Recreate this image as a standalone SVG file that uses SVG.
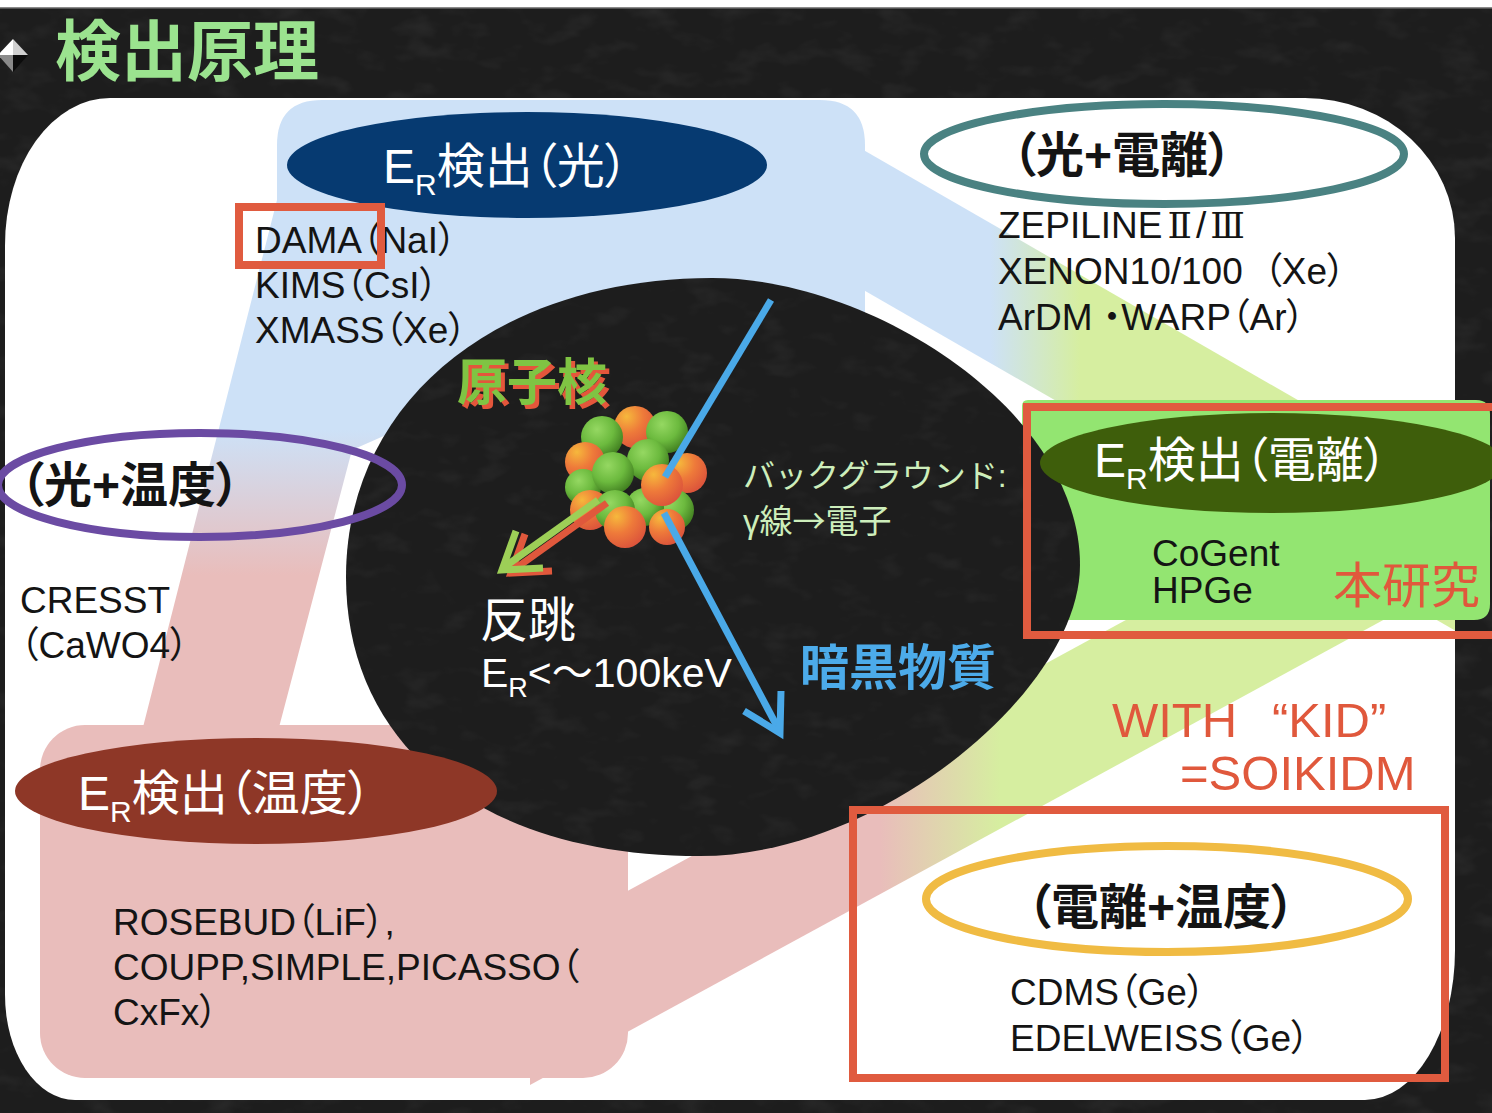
<svg xmlns="http://www.w3.org/2000/svg" width="1492" height="1113" viewBox="0 0 1492 1113">
  <defs>
    <style>
      text { font-family: "Liberation Sans", "Noto Sans CJK JP", sans-serif; font-feature-settings: "palt"; }
      .jp { font-family: "Noto Sans CJK JP", sans-serif; }
      .wide { font-feature-settings: normal; }
      .numeral { font-family: "DejaVu Serif", "Noto Sans CJK JP", serif; font-size: 36px; }
      .list { font-size: 37px; fill: #141414; }
      .head { font-size: 48px; fill: #ffffff; }
      .pair { font-size: 48px; font-weight: bold; fill: #141414; }
      .ring { stroke-width: 8; }
      .frame { fill: none; stroke: #e05b3f; stroke-width: 8; }
      .ray { fill: none; stroke: #4aa9e8; stroke-width: 7; }
      .recoil { fill: none; stroke-width: 7; stroke-linejoin: miter; }
      .ballG { fill: url(#gBallG); }
      .ballO { fill: url(#gBallO); }
    </style>
    <linearGradient id="gBlueRose" x1="0" y1="430" x2="0" y2="575" gradientUnits="userSpaceOnUse">
      <stop offset="0" stop-color="#cde1f7"/>
      <stop offset="1" stop-color="#e9bdbb"/>
    </linearGradient>
    <linearGradient id="gBlueLime" x1="990" y1="0" x2="1080" y2="0" gradientUnits="userSpaceOnUse">
      <stop offset="0" stop-color="#cde1f7"/>
      <stop offset="1" stop-color="#d6eea0"/>
    </linearGradient>
    <linearGradient id="gRoseLime" x1="880" y1="0" x2="1000" y2="0" gradientUnits="userSpaceOnUse">
      <stop offset="0" stop-color="#e9bdbb"/>
      <stop offset="1" stop-color="#d6eea0"/>
    </linearGradient>
    <radialGradient id="gBallG" cx="0.38" cy="0.32" r="0.72">
      <stop offset="0" stop-color="#95d862"/>
      <stop offset="0.55" stop-color="#6cba3e"/>
      <stop offset="1" stop-color="#3f7c1f"/>
    </radialGradient>
    <radialGradient id="gBallO" cx="0.3" cy="0.25" r="0.8">
      <stop offset="0" stop-color="#f6b83c"/>
      <stop offset="0.5" stop-color="#ee7a3a"/>
      <stop offset="1" stop-color="#dc543b"/>
    </radialGradient>
    <filter id="grain" x="0" y="0" width="1" height="1">
      <feTurbulence type="fractalNoise" baseFrequency="0.025 0.045" numOctaves="3" seed="7"/>
      <feColorMatrix type="matrix" values="0 0 0 0 1  0 0 0 0 1  0 0 0 0 1  0.6 0 0 0 -0.3"/>
    </filter>
    <clipPath id="clipPanel">
      <path d="M5,245 A105,147 0 0 1 110,98 L1305,98 A150,140 0 0 1 1455,238 L1455,950 A90,150 0 0 1 1365,1100 L75,1100 A70,105 0 0 1 5,995 Z"/>
    </clipPath>
    <clipPath id="clipBlob">
      <path d="M712,278 C870,278 1080,410 1080,565 C1080,690 880,856 700,856 C480,856 346,745 346,577 C346,400 500,278 712,278 Z"/>
    </clipPath>
  </defs>

  <!-- slide background -->
  <g id="background">
    <rect width="1492" height="1113" fill="#1d1d1d"/>
    <rect width="1492" height="1113" filter="url(#grain)" opacity="0.22"/>
    <rect width="1492" height="7" fill="#ffffff"/>
    <rect y="7" width="1492" height="1.5" fill="#8a8a8a"/>
    <g id="bullet">
      <polygon points="13,39 -2,55 13,55" fill="#ffffff"/>
      <polygon points="13,39 28,55 13,55" fill="#d0d0d0"/>
      <polygon points="-2,55 13,72 13,55" fill="#8a8a8a"/>
      <polygon points="28,55 13,72 13,55" fill="#0c0c0c"/>
    </g>
    <text x="55" y="75" class="jp" font-size="66" font-weight="bold" fill="#9be38f">検出原理</text>
    <path d="M5,245 A105,147 0 0 1 110,98 L1305,98 A150,140 0 0 1 1455,238 L1455,950 A90,150 0 0 1 1365,1100 L75,1100 A70,105 0 0 1 5,995 Z" fill="#ffffff"/>
  </g>

  <!-- bands linking the three detection channels -->
  <g id="connectors" clip-path="url(#clipPanel)">
    <path id="band-light-heat" d="M277,145 Q277,100 322,100 L820,100 Q865,100 865,145 L865,330 L560,330 L420,420 L352,450 L277,735 L141,735 L277,200 Z" fill="url(#gBlueRose)"/>
    <polygon id="band-light-ion" points="860,148 1480,505 1480,645 860,288" fill="url(#gBlueLime)"/>
    <polygon id="band-heat-ion" points="530,1085 1420,600 1420,460 530,944" fill="url(#gRoseLime)"/>
  </g>

  <!-- heat corner panel -->
  <rect id="panel-heat" x="40" y="725" width="588" height="353" rx="45" fill="#e9bdbb"/>

  <!-- ionization corner panel -->
  <path id="panel-ion" d="M1022,406 Q1022,400 1028,400 L1476,400 Q1490,400 1490,414 L1490,604 Q1490,620 1474,620 L1022,620 Z" fill="#93e571"/>

  <!-- central scattering picture -->
  <g id="node-scatter">
    <path d="M712,278 C870,278 1080,410 1080,565 C1080,690 880,856 700,856 C480,856 346,745 346,577 C346,400 500,278 712,278 Z" fill="#1d1d1d"/>
    <g clip-path="url(#clipBlob)">
      <rect x="340" y="270" width="750" height="600" filter="url(#grain)" opacity="0.2"/>
    </g>

    <text x="461" y="404" class="jp" font-size="50" font-weight="bold" fill="#e4563b">原子核</text>
    <text x="457" y="400" class="jp" font-size="50" font-weight="bold" fill="#7fc443">原子核</text>

    <g id="nucleus">
      <circle class="ballO" cx="635" cy="427" r="21"/>
      <circle class="ballG" cx="602" cy="437" r="21"/>
      <circle class="ballG" cx="667" cy="432" r="21"/>
      <circle class="ballO" cx="585" cy="462" r="20"/>
      <circle class="ballG" cx="648" cy="460" r="21"/>
      <circle class="ballO" cx="687" cy="473" r="20"/>
      <circle class="ballG" cx="583" cy="487" r="18"/>
      <circle class="ballG" cx="613" cy="473" r="21"/>
      <circle class="ballG" cx="673" cy="510" r="21"/>
      <circle class="ballG" cx="645" cy="507" r="19"/>
      <circle class="ballO" cx="662" cy="485" r="21"/>
      <circle class="ballO" cx="590" cy="510" r="20"/>
      <circle class="ballG" cx="615" cy="510" r="20"/>
      <circle class="ballO" cx="667" cy="527" r="18"/>
      <circle class="ballO" cx="625" cy="527" r="21"/>
    </g>

    <g id="recoil">
      <g transform="translate(9,3)" stroke="#e0583c" class="recoil">
        <line x1="598" y1="500" x2="503" y2="568"/>
        <polyline points="543,568 502,570 516,531"/>
      </g>
      <g stroke="#9dcf57" class="recoil">
        <line x1="598" y1="500" x2="503" y2="568"/>
        <polyline points="543,568 502,570 516,531"/>
      </g>
    </g>

    <g id="wimp-track">
      <line class="ray" x1="771" y1="300" x2="665" y2="477"/>
      <line class="ray" x1="664" y1="513" x2="779" y2="730"/>
      <polyline class="ray" points="744,711 780,733 781,691"/>
    </g>

    <text x="743" y="487" class="jp wide" font-size="32" fill="#cdeebb">バックグラウンド<tspan font-family="Liberation Sans, sans-serif">:</tspan></text>
    <text x="743" y="533" font-size="33" fill="#cdeebb">γ<tspan class="jp wide">線→電子</tspan></text>
    <text x="480" y="637" class="jp" font-size="48" fill="#ffffff">反跳</text>
    <text x="481" y="687" font-size="41" fill="#ffffff">E<tspan font-size="27" dy="10">R</tspan><tspan dy="-10">&lt;～100keV</tspan></text>
    <text x="800" y="685" class="jp" font-size="49" font-weight="bold" fill="#4cabea">暗黒物質</text>
  </g>

  <!-- light channel -->
  <g id="node-light">
    <ellipse cx="527" cy="165" rx="240" ry="53" fill="#063a71"/>
    <text x="383" y="183" class="head">E<tspan font-size="30" dy="12">R</tspan><tspan dy="-12">検出（光）</tspan></text>
    <text x="255" y="253" class="list">DAMA（NaI）</text>
    <text x="255" y="298" class="list">KIMS（CsI）</text>
    <text x="255" y="343" class="list">XMASS（Xe）</text>
    <rect x="239" y="207" width="142" height="58" class="frame" stroke-width="7"/>
  </g>

  <!-- light + ionization -->
  <g id="node-light-ion">
    <ellipse cx="1164" cy="154" rx="240" ry="50" class="ring" fill="#ffffff" stroke="#4a8282"/>
    <text x="1012" y="172" class="pair">（光+電離）</text>
    <text x="998" y="238" class="list">ZEPILINE<tspan class="numeral" dx="5">Ⅱ</tspan><tspan dx="4">/</tspan><tspan class="numeral" dx="4">Ⅲ</tspan></text>
    <text x="998" y="284" class="list">XENON10/100&#160; （Xe）</text>
    <text x="998" y="330" class="list">ArDM ・WARP（Ar）</text>
  </g>

  <!-- light + heat -->
  <g id="node-light-heat">
    <ellipse cx="200" cy="485" rx="202" ry="52" class="ring" fill="none" stroke="#6b4ba3" stroke-width="7"/>
    <text x="20" y="502" class="pair">（光+温度）</text>
    <text x="20" y="613" class="list">CRESST</text>
    <text x="20" y="658" class="list">（CaWO4）</text>
  </g>

  <!-- heat channel -->
  <g id="node-heat">
    <ellipse cx="256" cy="791" rx="241" ry="53" fill="#8e3727"/>
    <text x="78" y="810" class="head">E<tspan font-size="30" dy="12">R</tspan><tspan dy="-12">検出（温度）</tspan></text>
    <text x="113" y="935" class="list">ROSEBUD（LiF）,</text>
    <text x="113" y="980" class="list">COUPP,SIMPLE,PICASSO（</text>
    <text x="113" y="1025" class="list">CxFx）</text>
  </g>

  <!-- ionization channel (this work) -->
  <g id="node-ion">
    <ellipse cx="1272" cy="463" rx="232" ry="50" fill="#3e5e0b"/>
    <text x="1094" y="477" class="head">E<tspan font-size="30" dy="12">R</tspan><tspan dy="-12">検出（電離）</tspan></text>
    <text x="1152" y="566" class="list" font-size="35">CoGent</text>
    <text x="1152" y="603" class="list" font-size="35">HPGe</text>
    <text x="1333" y="603" class="jp" font-size="49" fill="#e0583c">本研究</text>
    <rect x="1027" y="407" width="480" height="228" class="frame"/>
  </g>

  <!-- proposed detector -->
  <g id="note-kid" fill="#e0583c" font-size="49">
    <text x="1112" y="737">WITH<tspan x="1272">“KID”</tspan></text>
    <text x="1180" y="790">=SOIKIDM</text>
  </g>

  <!-- ionization + heat -->
  <g id="node-ion-heat">
    <ellipse cx="1167" cy="899" rx="241" ry="53" class="ring" fill="#ffffff" stroke="#f0bb43"/>
    <text x="1027" y="924" class="pair">（電離+温度）</text>
    <text x="1010" y="1005" class="list">CDMS（Ge）</text>
    <text x="1010" y="1051" class="list">EDELWEISS（Ge）</text>
    <rect x="853" y="810" width="592" height="268" class="frame"/>
  </g>
</svg>
